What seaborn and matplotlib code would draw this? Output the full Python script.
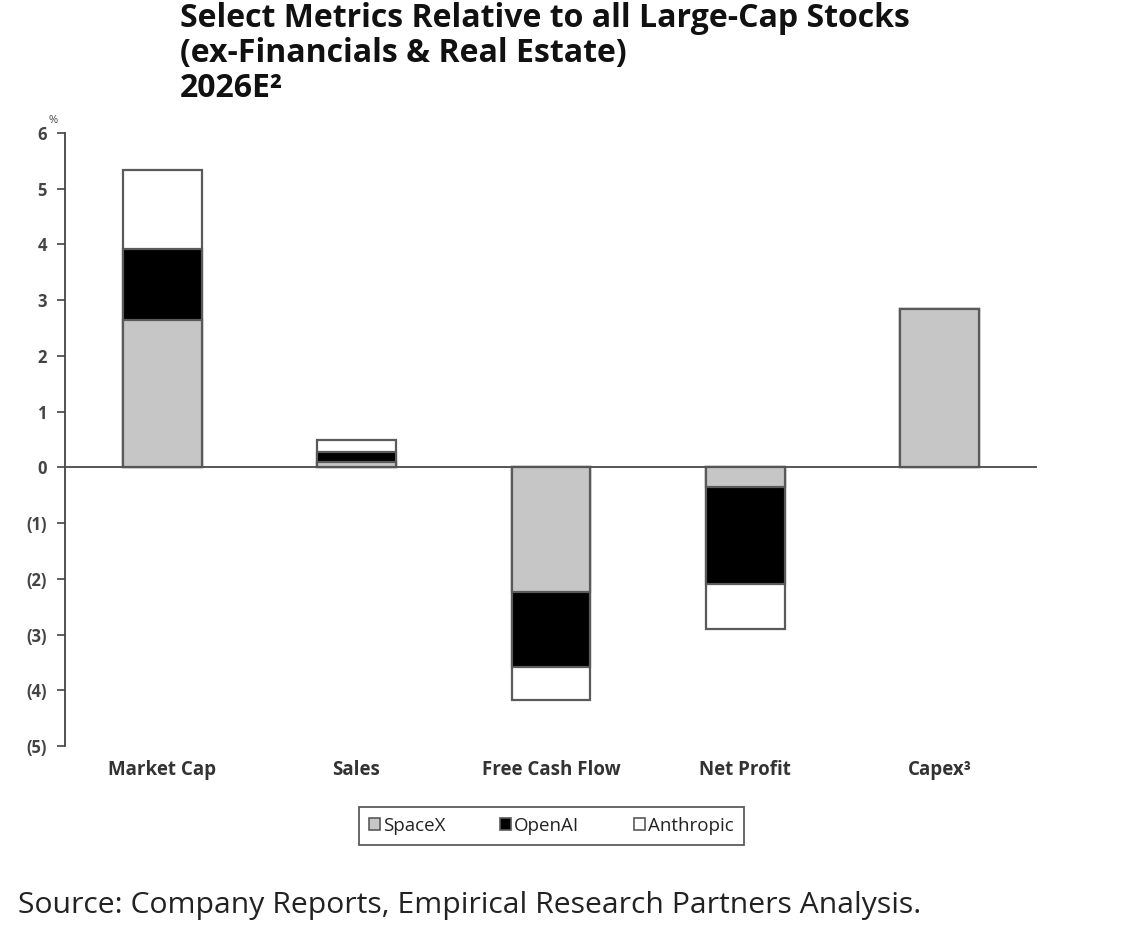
import pandas as pd
import seaborn as sns
import matplotlib.pyplot as plt
from matplotlib.patches import Patch

### Data (% of all large-cap stocks, 2026E)
categories = ["Market Cap", "Sales", "Free Cash Flow", "Net Profit", "Capex³"]
spacex = [2.64, 0.09, -2.23, -0.36, 2.85]
openai = [1.27, 0.18, -1.36, -1.74, 0.0]
anthropic = [1.42, 0.22, -0.59, -0.81, 0.0]
tick_values = [6, 5, 4, 3, 2, 1, 0, -1, -2, -3, -4, -5]
tick_labels = ["6", "5", "4", "3", "2", "1", "0", "(1)", "(2)", "(3)", "(4)", "(5)"]

colors = {"SpaceX": "#c6c6c6", "OpenAI": "#000000", "Anthropic": "#ffffff"}
edge = "#5a5a5a"

df = pd.DataFrame({"metric": categories, "SpaceX": spacex,
                   "OpenAI": openai, "Anthropic": anthropic})
# cumulative tops, drawn back to front so each layer overlays the next
df["lvl_spacex"] = df["SpaceX"]
df["lvl_openai"] = df["SpaceX"] + df["OpenAI"]
df["lvl_anthropic"] = df["lvl_openai"] + df["Anthropic"]

sns.set_theme(style="white")
plt.rcParams["font.family"] = ["Open Sans", "DejaVu Sans"]

fig = plt.figure(figsize=(11.33, 9.27), dpi=100)
ax = fig.add_axes([0.0574, 0.1953, 0.8576, 0.6612])

for col, name in [("lvl_anthropic", "Anthropic"), ("lvl_openai", "OpenAI"),
                  ("lvl_spacex", "SpaceX")]:
    sns.barplot(data=df, x="metric", y=col, order=categories, ax=ax,
                color=colors[name], edgecolor=edge, linewidth=1.6,
                width=0.405, saturation=1)

ax.set_xlim(-0.5, 4.5)
ax.set_ylim(-5, 6)
ax.axhline(0, color="#555555", linewidth=1.4, zorder=5)

ax.set_yticks(tick_values)
ax.set_yticklabels(tick_labels, fontsize=12, fontweight="bold", color="#444444")
ax.tick_params(axis="y", left=True, direction="out", length=6, width=1.2,
               color="#444444", pad=7)
ax.tick_params(axis="x", bottom=False, length=0, pad=10)
for lbl in ax.get_xticklabels():
    lbl.set_fontsize(13.5)
    lbl.set_fontweight("bold")
    lbl.set_color("#333333")
ax.set_xlabel("")
ax.set_ylabel("")
for s in ["top", "right", "bottom"]:
    ax.spines[s].set_visible(False)
ax.spines["left"].set_color("#444444")
ax.spines["left"].set_linewidth(1.3)
ax.text(-0.56, 6.12, "%", fontsize=8, color="#444444", ha="center", va="bottom")

handles = [Patch(facecolor=colors[n], edgecolor=edge, linewidth=1.2, label=n)
           for n in ["SpaceX", "OpenAI", "Anthropic"]]
leg = fig.legend(handles=handles, loc="center", bbox_to_anchor=(0.4865, 0.109),
                 ncol=3, frameon=True, fancybox=False, fontsize=13.5,
                 handlelength=0.6, handleheight=0.6, handletextpad=0.15,
                 columnspacing=2.9, borderpad=0.55, borderaxespad=0)
leg.get_frame().set_edgecolor("#333333")
leg.get_frame().set_linewidth(1.3)
for t in leg.get_texts():
    t.set_color("#222222")

fig.text(0.159, 0.998, "Select Metrics Relative to all Large-Cap Stocks\n"
         "(ex-Financials & Real Estate)\n2026E²",
         fontsize=23, fontweight="bold", ha="left", va="top",
         linespacing=1.08, color="#111111")
fig.text(0.016, 0.008, "Source: Company Reports, Empirical Research Partners Analysis.",
         fontsize=21.7, ha="left", va="bottom", color="#222222")

plt.savefig("out.png", dpi=100)
